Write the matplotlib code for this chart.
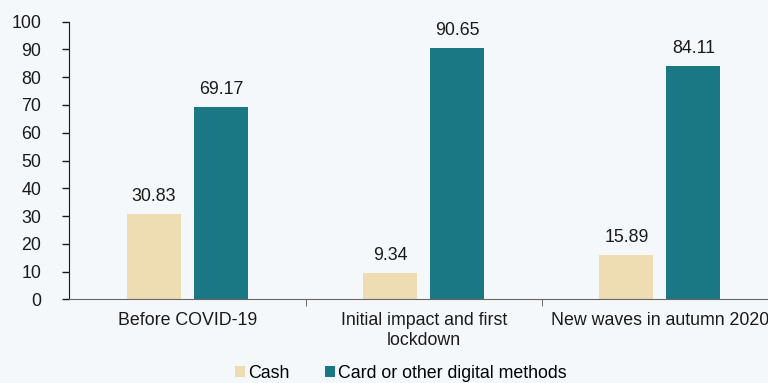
import numpy as np
import matplotlib
matplotlib.use("Agg")
import matplotlib.pyplot as plt

plt.rcParams['font.family'] = ['Liberation Sans', 'DejaVu Sans']

# data
categories = ['Before COVID-19', 'Initial impact and first\nlockdown', 'New waves in autumn 2020']
cash = [30.83, 9.34, 15.89]
card = [69.17, 90.65, 84.11]
series_names = ['Cash', 'Card or other digital methods']

bg = '#F5F8FA'
c_cash = '#EEDDB3'
c_card = '#1A7885'
fs = 12.8

fig = plt.figure(figsize=(7.68, 3.83), dpi=100, facecolor=bg)
ax = fig.add_axes([0.0902, 0.2185, 1.013 - 0.0902, 0.9433 - 0.2185])
ax.set_facecolor(bg)

x = np.arange(len(categories))
w = 0.228
off = 0.1416
b1 = ax.bar(x - off, cash, w, color=c_cash, label=series_names[0])
b2 = ax.bar(x + off, card, w, color=c_card, label=series_names[1])

for bars, vals in ((b1, cash), (b2, card)):
    for r, v in zip(bars, vals):
        ax.text(r.get_x() + r.get_width() / 2, v + 3.3, '%.2f' % v,
                ha='center', va='bottom', fontsize=fs, color='#1a1a1a')

ax.set_xlim(-0.5, len(categories) - 0.5)
ax.set_ylim(0, 100)
ax.set_yticks(range(0, 101, 10))
ax.tick_params(axis='y', length=5, width=1, pad=15, labelsize=fs, colors='#1a1a1a')
ax.set_xticks(x)
ax.set_xticklabels(categories, fontsize=fs, color='#1a1a1a', linespacing=1.25)
ax.tick_params(axis='x', length=0, pad=9)
ax.set_xticks(np.arange(0.5, len(categories) - 0.5, 1), minor=True)
ax.tick_params(axis='x', which='minor', length=5, color='#555555')

for s in ('top', 'right'):
    ax.spines[s].set_visible(False)
ax.spines['left'].set_color('#1a1a1a')
ax.spines['bottom'].set_color('#666666')

leg = fig.legend(handles=[b1, b2], labels=series_names, loc='center',
                 bbox_to_anchor=(0.522, 0.025), ncol=2, frameon=False,
                 fontsize=fs, handlelength=0.55, handleheight=0.55,
                 handletextpad=0.2, columnspacing=2.0, borderpad=0)

fig.savefig('out.png', dpi=100, facecolor=bg)
